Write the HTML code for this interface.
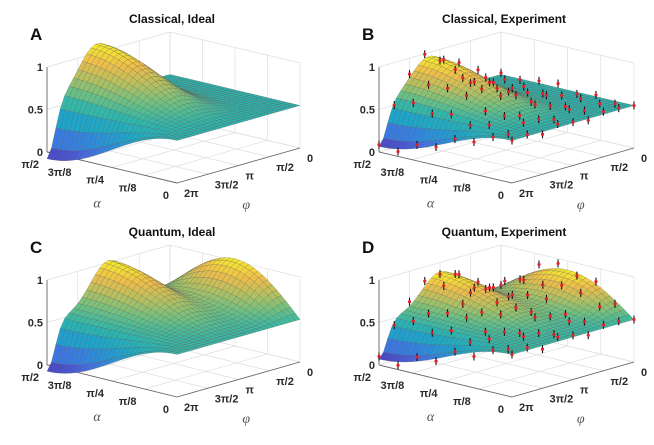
<!DOCTYPE html>
<html><head><meta charset="utf-8">
<style>
html,body{margin:0;padding:0;background:#fff;}
svg{display:block;font-family:"Liberation Sans",sans-serif;}
.tk{font-size:11px;font-weight:bold;fill:#2a2a2a;}
.ttl{font-size:12px;font-weight:bold;fill:#111;}
.lt{font-size:17px;font-weight:bold;fill:#111;}
.ax{font-family:"Liberation Serif",serif;font-style:italic;font-size:14px;fill:#555;}
</style></head>
<body>
<svg id="fig" width="654" height="445" viewBox="0 0 654 445"></svg>
<script>
// ---- data ----
const alphaTickLabels = ["π/2","3π/8","π/4","π/8","0"];
const alphaTickFrac = [1,0.75,0.5,0.25,0];
const phiTickLabels = ["2π","3π/2","π","π/2","0"];
const phiTickFrac = [1,0.75,0.5,0.25,0];
const zTickValues = [0,0.5,1];
const zTickLabels = ["0","0.5","1"];
const panelTitles = ["Classical, Ideal","Classical, Experiment","Quantum, Ideal","Quantum, Experiment"];
const panelLetters = ["A","B","C","D"];
// measured-point grid (alpha fractions x phi fractions)
const ptAlpha = [1,0.857,0.714,0.571,0.429,0.286,0.143,0];
const ptPhi = [1,0.875,0.75,0.625,0.5,0.375,0.25,0.125,0];
// deviations of measured values from fitted surface (read approx.)
const devB = [0.02,-0.03,0.04,0.05,-0.02,0.03,-0.04,0.01,0.02,
-0.03,0.05,-0.02,0.06,0.03,-0.05,0.02,0.04,-0.01,
0.04,-0.02,0.03,-0.04,0.05,0.02,-0.03,0.01,0.03,
-0.02,0.03,0.05,-0.03,-0.04,0.04,0.02,-0.02,0.05,
0.03,-0.04,-0.02,0.04,0.02,-0.03,0.05,0.01,-0.02,
-0.04,0.02,0.03,-0.05,0.04,0.01,-0.02,0.03,0.02,
0.01,-0.03,0.04,0.02,-0.03,0.05,-0.01,0.02,-0.03,
0.0,0.02,-0.03,0.04,0.01,-0.02,0.03,0.02,0.0];
const devD = [0.03,-0.04,0.05,0.06,-0.03,0.04,-0.05,0.02,0.03,
-0.04,0.06,-0.03,0.07,0.04,-0.06,0.03,0.05,-0.02,
0.05,-0.03,0.04,-0.05,0.06,0.03,-0.04,0.02,0.07,
-0.03,0.04,0.06,-0.04,-0.05,0.05,0.03,-0.03,0.06,
0.04,-0.05,-0.03,0.05,0.03,-0.04,0.06,0.02,-0.03,
-0.05,0.03,0.04,-0.06,0.05,0.02,-0.03,0.04,0.03,
0.02,-0.04,0.05,0.03,-0.04,0.06,-0.02,0.03,-0.04,
0.0,0.03,-0.04,0.05,0.02,-0.03,0.04,0.03,0.0];

const NS="http://www.w3.org/2000/svg";
const svg=document.getElementById('fig');
function mk(tag,attrs,parent){const e=document.createElementNS(NS,tag);for(const k in attrs)e.setAttribute(k,attrs[k]);(parent||svg).appendChild(e);return e;}

const PI=Math.PI;
const gau=(x,m,s)=>Math.exp(-Math.pow((x-m)/s,2));
function classical(a,p){const al=a*PI/2,ph=p*2*PI,s=Math.pow(Math.sin(al),2);
 const h=1.22*gau(ph,1.18*PI,1.4)-1.2*gau(ph,2*PI,0.55);return 0.5+0.5*s*h;}
function quantum(a,p){const al=a*PI/2,ph=p*2*PI;
 const A=1.05*gau(ph,1.0*PI,1.3)-1.15*gau(ph,2*PI,0.55), B=1.05*gau(ph,0,1.3);
 return 0.5+0.5*(Math.pow(Math.sin(al),2)*A+Math.sin(2*al)*B);}
const expOf=f=>(a,p)=>0.5+0.75*(f(a,p)-0.5);

const panels=[
 {ox:47,oy:152,wa:130,ha:31,wp:123,hp:35,f:classical,pts:null},
 {ox:379,oy:152,wa:133,ha:31,wp:122,hp:35,f:expOf(classical),pts:devB},
 {ox:47,oy:365,wa:130,ha:32,wp:123,hp:35,f:quantum,pts:null},
 {ox:379,oy:365,wa:133,ha:32,wp:122,hp:35,f:expOf(quantum),pts:devD}];
const ZS=85;

const stops=[[75,60,185],[70,105,225],[45,140,220],[30,165,200],[45,182,172],[110,192,130],[180,192,95],[238,188,75],[245,235,45]];
function cmap(t){t=Math.max(0,Math.min(1,t))*8;const i=Math.min(7,Math.floor(t)),f=t-i;
 const c=stops[i].map((v,k)=>Math.round(v+(stops[i+1][k]-v)*f));return `rgb(${c[0]},${c[1]},${c[2]})`;}

panels.forEach((P,pi)=>{
 const grp=mk('g',{});
 
 
 const pr=(a,p,z)=>[P.ox+(1-a)*P.wa+(1-p)*P.wp, P.oy+(1-a)*P.ha-(1-p)*P.hp-z*ZS];
 const line=(q1,q2,col,w,name)=>{const l=mk('line',{x1:q1[0],y1:q1[1],x2:q2[0],y2:q2[1],stroke:col,'stroke-width':w},grp);
  return l;};
 const gc='#dedede';
 alphaTickFrac.forEach(a=>{line(pr(a,0,0),pr(a,0,1),gc,0.7,'grid-line');line(pr(a,0,0),pr(a,1,0),gc,0.7,'grid-line');});
 phiTickFrac.forEach(p=>{line(pr(1,p,0),pr(1,p,1),gc,0.7,'grid-line');line(pr(1,p,0),pr(0,p,0),gc,0.7,'grid-line');});
 zTickValues.forEach(z=>{line(pr(1,1,z),pr(1,0,z),gc,0.7,'grid-line');line(pr(1,0,z),pr(0,0,z),gc,0.7,'grid-line');});
 line(pr(1,1,0),pr(0,1,0),'#666',0.9,'alpha-axis');
 line(pr(0,1,0),pr(0,0,0),'#666',0.9,'phi-axis');
 line(pr(1,1,0),pr(1,1,1),'#666',0.9,'z-axis');
 const N=28,Z=[];let mn=1e9,mx=-1e9;
 for(let i=0;i<=N;i++){Z.push([]);for(let j=0;j<=N;j++){const v=P.f(i/N,j/N);Z[i].push(v);mn=Math.min(mn,v);mx=Math.max(mx,v);}}
 const quads=[];
 for(let i=0;i<N;i++)for(let j=0;j<N;j++)quads.push([i,j]);
 quads.sort((u,v)=>((v[0]-v[1])-(u[0]-u[1])));
 const sg=mk('g',{},grp);
 
 quads.forEach(([i,j])=>{
  const c=[[i,j],[i+1,j],[i+1,j+1],[i,j+1]];
  const pts=c.map(([a,b])=>pr(a/N,b/N,Z[a][b]).map(v=>v.toFixed(1)).join(',')).join(' ');
  const zm=(Z[i][j]+Z[i+1][j]+Z[i+1][j+1]+Z[i][j+1])/4;
  const pg=mk('polygon',{points:pts,fill:cmap((zm-mn)/(mx-mn)),stroke:'rgba(80,80,80,0.5)','stroke-width':0.4},sg);
  
 });
 if(P.pts){
  ptAlpha.forEach((a,ia)=>ptPhi.forEach((p,ip)=>{
   const v=P.f(a,p)+P.pts[ia*ptPhi.length+ip];
   const q=pr(a,p,v);
   const eb=mk('line',{x1:q[0],y1:q[1]-4,x2:q[0],y2:q[1]+4,stroke:'#111','stroke-width':1.1},grp);
   
   const d=mk('circle',{cx:q[0],cy:q[1],r:1.6,fill:'#e0202a'},grp);
   
  }));
 }
 zTickValues.forEach((z,k)=>{const q=pr(1,1,z);const t=mk('text',{x:q[0]-4,y:q[1]+4,'text-anchor':'end',class:'tk'},grp);t.textContent=zTickLabels[k];
  });
 alphaTickFrac.forEach((a,k)=>{const q=pr(a,1,0);const t=mk('text',{x:q[0]-8,y:q[1]+16,'text-anchor':'end',class:'tk'},grp);t.textContent=alphaTickLabels[k];
  });
 phiTickFrac.forEach((p,k)=>{const q=pr(0,p,0);const t=mk('text',{x:q[0]+7,y:q[1]+14,'text-anchor':'start',class:'tk'},grp);t.textContent=phiTickLabels[k];
  });
 const qa=pr(0.5,1,0);const ta=mk('text',{x:qa[0]-15,y:qa[1]+40,class:'ax','text-anchor':'middle'},grp);ta.textContent='α';
 
 const qp=pr(0,0.6,0);const tp=mk('text',{x:qp[0]+20,y:qp[1]+40,class:'ax','text-anchor':'middle'},grp);tp.textContent='φ';
 
 const tt=mk('text',{x:P.ox+125,y:P.oy-129,'text-anchor':'middle',class:'ttl'},grp);tt.textContent=panelTitles[pi];
 
 const tl=mk('text',{x:P.ox-17,y:P.oy-112,class:'lt'},grp);tl.textContent=panelLetters[pi];
 
});
</script>
</body></html>
